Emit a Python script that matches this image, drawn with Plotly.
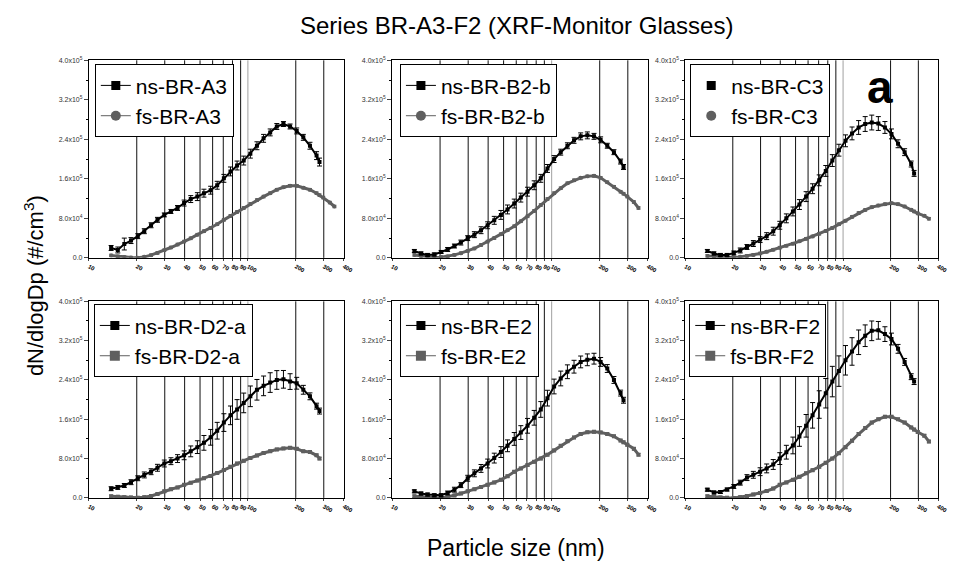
import plotly.graph_objects as go

# Particle diameters (nm)
D_NS = [13.8, 15.2, 16.7, 18.4, 20.3, 22.3, 24.6, 27.0, 29.8, 32.8, 36.1, 39.7, 43.7,
        48.1, 52.9, 58.3, 64.1, 70.6, 77.7, 85.5, 94.1, 103.6, 114.0, 125.5, 138.1,
        152.0, 167.3, 184.2, 202.7, 223.1, 245.6, 270.3, 282.0]
D_FS_EXTRA = [297.6, 327.5, 350.0]

# dN/dlogDp values in units of 10^3 #/cm^3
NS_A3 = [20, 16, 28, 35, 44, 54, 66, 77, 87, 94, 101, 111, 119, 124, 131, 137, 147, 161, 175,
         187, 197, 211, 227, 242, 254, 266, 271, 266, 257, 244, 227, 207, 194]
NS_A3_ERR = [5, 6, 12, 6, 5, 5, 5, 5, 4, 4, 5, 6, 7, 8, 8, 8, 8, 8, 9, 9, 9, 9, 8, 8, 7, 6, 5, 5,
             6, 6, 7, 8, 8]
FS_A3 = [5, 3, 1.5, 0.5, 0.3, 2, 5.5, 10, 15.5, 21, 27, 33, 39.5, 47, 54, 60.5, 68, 77, 85, 93,
         101, 109, 117, 124, 131, 138, 143, 146, 146, 142, 138, 131, 127, 122, 112, 104]

NS_B2 = [14, 9, 6, 7, 12, 17, 24, 31, 40, 47, 56, 66, 76, 87, 98, 110, 122, 134, 147, 161, 181,
         200, 214, 227, 238, 246, 248, 246, 239, 227, 214, 195, 184]
NS_B2_ERR = [3, 3, 3, 3, 3, 4, 4, 5, 5, 6, 7, 7, 8, 9, 9, 9, 9, 9, 9, 8, 8, 7, 6, 6, 6, 7, 7, 6,
             6, 5, 5, 5, 5]
FS_B2 = [6, 4, 2, 1, 1.5, 3, 6, 9.5, 14, 19, 26, 33, 40, 48, 56, 64, 74, 84, 95, 107, 119, 131,
         141, 151, 157, 162, 165, 166, 162, 153, 144, 134, 130, 124, 113, 101]

NS_C3 = [14, 9, 6, 6, 10, 15, 22, 29, 37, 44, 54, 66, 80, 94, 108, 124, 140, 157, 176, 197, 218,
         237, 252, 264, 271, 274, 272, 264, 251, 231, 214, 190, 171]
NS_C3_ERR = [3, 3, 3, 3, 4, 5, 5, 6, 6, 7, 8, 8, 9, 9, 10, 10, 10, 11, 11, 12, 12, 12, 13, 14, 15,
             15, 14, 12, 10, 8, 7, 6, 6]
FS_C3 = [4, 3, 2, 1, 1, 2, 4, 6, 9, 12.5, 16.5, 20.7, 24.5, 28.7, 33.5, 38.7, 43.5, 48.7, 54.5,
         60.7, 68, 75.3, 83, 90.7, 97, 102.7, 106, 108.7, 110.7, 108.7, 104, 97.3, 94, 90, 85.3, 79.3]

NS_D2 = [18.7, 21.3, 25.3, 32, 40, 46.7, 53.3, 61.3, 70, 74.7, 80, 86.7, 94.7, 103.3, 112, 123.3,
         136.7, 153.3, 168, 180, 193.3, 206.7, 220, 228, 234.7, 240, 241.3, 236.7, 233.3, 220,
         206.7, 186.7, 176.7]
NS_D2_ERR = [4, 4, 4, 5, 5, 6, 6, 7, 7, 7, 8, 9, 11, 13, 15, 16, 17, 18, 19, 20, 20, 21, 21, 20,
             20, 19, 18, 16, 12, 9, 7, 6, 6]
FS_D2 = [3.3, 2.5, 1.5, 0.8, 0.5, 1.5, 4, 8, 13.3, 17.5, 21.3, 26.7, 31, 35.3, 40, 44.7, 50.5,
         56.7, 63.5, 70, 75.5, 81.3, 86.5, 91.3, 95, 98.7, 100.7, 102, 100, 94.7, 93.3, 86.7, 80]

NS_E2 = [13.3, 9, 6.7, 5.3, 5.3, 10, 16.7, 26, 40, 50, 60, 70, 81, 93.3, 106, 120, 133, 146.7,
         163, 180, 203, 226.7, 243, 256.7, 267, 276.7, 281, 283.3, 276.7, 263.3, 240, 213.3, 198.7]
NS_E2_ERR = [3, 3, 3, 3, 3, 4, 5, 5, 6, 7, 8, 9, 10, 11, 12, 13, 14, 15, 15, 16, 16, 15, 15, 14,
             13, 12, 12, 11, 9, 8, 7, 6, 6]
FS_E2 = [3.3, 2.5, 1.5, 0.5, 0, 2, 5, 9, 13.3, 17.5, 22, 26.7, 31.5, 36.7, 44, 53.3, 60, 66.7,
         73.5, 80, 88, 96.7, 106, 115.3, 123, 130, 133.5, 134.7, 133.3, 130, 125.3, 116.7, 113,
         108, 100, 88]

NS_F2 = [16.7, 11, 12, 17, 23.3, 31, 41.3, 47, 53.3, 60, 68, 80, 93, 106.7, 125, 146.7, 168, 190,
         213, 236.7, 258, 280, 298, 316.7, 330, 340, 341, 333.3, 323.3, 303.3, 276.7, 246.7, 236.7]
NS_F2_ERR = [3, 3, 3, 3, 4, 5, 6, 7, 8, 9, 10, 12, 14, 17, 20, 23, 26, 28, 30, 31, 31, 30, 28, 25,
             22, 20, 18, 15, 12, 9, 7, 6, 6]
FS_F2 = [3.3, 2, 1, 0.5, 0, 1.5, 4, 7, 10, 14, 19, 26.7, 31.5, 36.7, 43, 50, 56.5, 63.3, 71.5,
         80, 91, 103.3, 116.5, 130, 142, 153.3, 160, 165.3, 165.3, 160, 153.3, 143.3, 139, 134,
         126.7, 114.7]

X_TICKS = [10, 20, 30, 40, 50, 60, 70, 80, 90, 100, 200, 300, 400]
X_GRID = [20, 30, 40, 50, 60, 70, 80, 90, 100, 200, 300]
Y_TICKS = [0, 80000, 160000, 240000, 320000, 400000]
Y_TICKTEXT = ["0.0", "8.0x10<sup>4</sup>", "1.6x10<sup>5</sup>", "2.4x10<sup>5</sup>",
              "3.2x10<sup>5</sup>", "4.0x10<sup>5</sup>"]
Y_MINOR = [40000, 120000, 200000, 280000, 360000]

K = 1000.0

PANELS = [
    dict(ns="ns-BR-A3", nsv=NS_A3, nse=NS_A3_ERR, fs="fs-BR-A3", fsv=FS_A3, fsx=D_NS + D_FS_EXTRA,
         sym="circle", legline=True),
    dict(ns="ns-BR-B2-b", nsv=NS_B2, nse=NS_B2_ERR, fs="fs-BR-B2-b", fsv=FS_B2, fsx=D_NS + D_FS_EXTRA,
         sym="circle", legline=True),
    dict(ns="ns-BR-C3", nsv=NS_C3, nse=NS_C3_ERR, fs="fs-BR-C3", fsv=FS_C3, fsx=D_NS + D_FS_EXTRA,
         sym="circle", legline=False),
    dict(ns="ns-BR-D2-a", nsv=NS_D2, nse=NS_D2_ERR, fs="fs-BR-D2-a", fsv=FS_D2, fsx=D_NS,
         sym="square", legline=True),
    dict(ns="ns-BR-E2", nsv=NS_E2, nse=NS_E2_ERR, fs="fs-BR-E2", fsv=FS_E2, fsx=D_NS + D_FS_EXTRA,
         sym="square", legline=True),
    dict(ns="ns-BR-F2", nsv=NS_F2, nse=NS_F2_ERR, fs="fs-BR-F2", fsv=FS_F2, fsx=D_NS + D_FS_EXTRA,
         sym="square", legline=True),
]

W, H = 953, 574
XDOM = [(88 / W, 346 / W), (395 / W, 654 / W), (692 / W, 948 / W)]
YDOM = [(1 - 257 / H, 1 - 57 / H), (1 - 500 / H, 1 - 301 / H)]
LEGPOS = [(94, 61), (403, 61), (697, 61), (93, 304), (403, 304), (696, 304)]

FONT = "Arial, Liberation Sans, sans-serif"
BLACK = "#000000"
GRAY = "#5f5f5f"

fig = go.Figure()
layout = dict(width=W, height=H, margin=dict(l=0, r=0, t=0, b=0),
              paper_bgcolor="white", plot_bgcolor="white", showlegend=True)
shapes = []

for i, p in enumerate(PANELS):
    row, col = divmod(i, 3)
    sfx = "" if i == 0 else str(i + 1)
    xa, ya = "x" + sfx, "y" + sfx
    leg = "legend" + sfx
    ns_y = [v * K for v in p["nsv"]]
    ns_e = [v * K for v in p["nse"]]
    fs_y = [v * K for v in p["fsv"]]

    fig.add_trace(go.Scatter(
        x=p["fsx"], y=fs_y, xaxis=xa, yaxis=ya, name=p["fs"],
        mode="lines+markers", line=dict(color=GRAY, width=3),
        marker=dict(symbol=p["sym"], size=4, color=GRAY),
        error_y=dict(type="constant", value=2500, color=GRAY, thickness=1, width=2),
        showlegend=False, legend=leg))
    fig.add_trace(go.Scatter(
        x=D_NS, y=ns_y, xaxis=xa, yaxis=ya, name=p["ns"],
        mode="lines+markers", line=dict(color=BLACK, width=2),
        marker=dict(symbol="square", size=4, color=BLACK),
        error_y=dict(type="data", array=ns_e, color=BLACK, thickness=1, width=2.5),
        showlegend=False, legend=leg))
    # legend entries
    lmode = "lines+markers" if p["legline"] else "markers"
    fig.add_trace(go.Scatter(
        x=[None], y=[None], xaxis=xa, yaxis=ya, name=p["ns"], mode=lmode,
        line=dict(color=BLACK, width=1), marker=dict(symbol="square", size=9, color=BLACK),
        legend=leg, showlegend=True))
    fig.add_trace(go.Scatter(
        x=[None], y=[None], xaxis=xa, yaxis=ya, name=p["fs"], mode=lmode,
        line=dict(color=GRAY, width=1), marker=dict(symbol=p["sym"], size=10, color=GRAY),
        legend=leg, showlegend=True))

    layout["xaxis" + sfx] = dict(
        type="log", range=[1, 2.60206], domain=list(XDOM[col]), anchor=ya,
        tickvals=X_TICKS, ticktext=["<b>%d</b>" % t for t in X_TICKS],
        tickfont=dict(family=FONT, size=6, color=BLACK), ticks="outside", ticklen=2,
        showline=True, mirror=True, linecolor=BLACK, linewidth=1,
        showgrid=False, zeroline=False, fixedrange=True)
    layout["yaxis" + sfx] = dict(
        range=[0, 400000], domain=list(YDOM[row]), anchor=xa,
        tickvals=Y_TICKS, ticktext=Y_TICKTEXT,
        tickfont=dict(family=FONT, size=7, color="#333"), ticks="outside", ticklen=4,
        minor=dict(tickvals=Y_MINOR, ticks="outside", ticklen=2, tickcolor=BLACK),
        showline=True, mirror=True, linecolor=BLACK, linewidth=1,
        showgrid=False, zeroline=False, fixedrange=True)
    lx, ly = LEGPOS[i]
    layout[leg] = dict(
        x=lx / W, y=1 - ly / H, xanchor="left", yanchor="top",
        bgcolor="white", bordercolor=BLACK, borderwidth=1,
        font=dict(family=FONT, size=21, color=BLACK), tracegroupgap=0, itemwidth=30)
    for g in X_GRID:
        shapes.append(dict(type="line", xref=xa, yref=ya + " domain", x0=g, x1=g, y0=0, y1=1,
                           line=dict(color="#a0a0a0" if g == 100 else "#111", width=1),
                           layer="below"))

layout["shapes"] = shapes
layout["annotations"] = [
    dict(text="Series BR-A3-F2 (XRF-Monitor Glasses)", x=521 / W, y=1 - 22 / H,
         xref="paper", yref="paper", xanchor="center", yanchor="middle", showarrow=False,
         font=dict(family=FONT, size=24, color=BLACK)),
    dict(text="Particle size (nm)", x=521 / W, y=1 - 551 / H,
         xref="paper", yref="paper", xanchor="center", yanchor="middle", showarrow=False,
         font=dict(family=FONT, size=23, color=BLACK)),
    dict(text="dN/dlogDp (#/cm<sup>3</sup>)", x=32 / W, y=1 - 285 / H, textangle=-90,
         xref="paper", yref="paper", xanchor="center", yanchor="middle", showarrow=False,
         font=dict(family=FONT, size=22, color=BLACK)),
    dict(text="<b>a</b>", x=889 / W, y=1 - 84 / H,
         xref="paper", yref="paper", xanchor="center", yanchor="middle", showarrow=False,
         font=dict(family=FONT, size=46, color=BLACK)),
]

fig.update_layout(**layout)
fig.write_html("out.html")
